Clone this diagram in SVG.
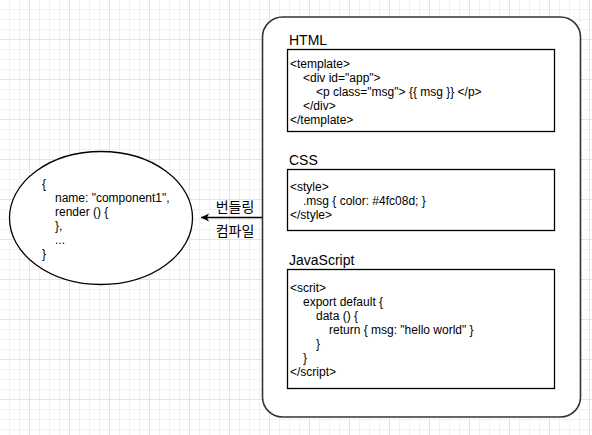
<svg xmlns="http://www.w3.org/2000/svg" width="592" height="435" viewBox="0 0 592 435">
<defs>
<pattern id="minor" width="10" height="10" patternUnits="userSpaceOnUse" x="9" y="9">
<path d="M0 0.5H10M0.5 0V10" fill="none" stroke="#f1f1f1" stroke-width="1"/>
</pattern>
<pattern id="major" width="40" height="40" patternUnits="userSpaceOnUse" x="29" y="39">
<path d="M0 0.5H40M0.5 0V40" fill="none" stroke="#e3e3e3" stroke-width="1"/>
</pattern>
<marker id="arrow" markerWidth="10" markerHeight="10" refX="8" refY="4" orient="auto" markerUnits="userSpaceOnUse">
<path d="M0 0L8 4L0 8L2 4Z" fill="#000"/>
</marker>
</defs>
<style>
.code{font-family:"Liberation Sans",Arial,sans-serif;font-size:12px;fill:#000;white-space:pre}
.title{font-family:"Liberation Sans",Arial,sans-serif;font-size:14px;fill:#000}
.kor{font-family:"Liberation Sans","Noto Sans CJK KR",sans-serif;font-size:14px;fill:#000;text-anchor:middle}
.box{fill:#fff;stroke:#000;stroke-width:1.3}
</style>
<rect width="592" height="435" fill="#fff"/>
<rect width="592" height="435" fill="url(#minor)"/>
<rect width="592" height="435" fill="url(#major)"/>

<g id="container">
<rect x="262.5" y="17" width="318" height="400" rx="20" ry="20" fill="#fff" stroke="#333" stroke-width="1.6"/>
</g>

<g id="html">
<text class="title" x="289" y="45">HTML</text>
<rect class="box" x="287.5" y="49.5" width="267" height="82"/>
<text class="code" x="290" y="67.5">&lt;template&gt;</text>
<text class="code" x="303" y="81.5">&lt;div id="app"&gt;</text>
<text class="code" x="316" y="95.5">&lt;p class="msg"&gt; {{ msg }} &lt;/p&gt;</text>
<text class="code" x="303" y="109.5">&lt;/div&gt;</text>
<text class="code" x="290" y="123.5">&lt;/template&gt;</text>
</g>

<g id="css">
<text class="title" x="289" y="165">CSS</text>
<rect class="box" x="287.5" y="169.5" width="267" height="61"/>
<text class="code" x="290" y="190.5">&lt;style&gt;</text>
<text class="code" x="303" y="204.5">.msg { color: #4fc08d; }</text>
<text class="code" x="290" y="218.5">&lt;/style&gt;</text>
</g>

<g id="javascript">
<text class="title" x="289" y="265">JavaScript</text>
<rect class="box" x="287.5" y="269.5" width="267" height="119"/>
<text class="code" x="290" y="291.5">&lt;scrit&gt;</text>
<text class="code" x="303" y="305.5">export default {</text>
<text class="code" x="316" y="319.5">data () {</text>
<text class="code" x="329" y="333.5">return { msg: "hello world" }</text>
<text class="code" x="316" y="347.5">}</text>
<text class="code" x="303" y="361.5">}</text>
<text class="code" x="290" y="375.5">&lt;/script&gt;</text>
</g>

<g id="component">
<ellipse cx="101" cy="218" rx="91.5" ry="66.5" fill="#fff" stroke="#000" stroke-width="1.3"/>
<text class="code" x="42" y="188">{</text>
<text class="code" x="55" y="202">name: "component1",</text>
<text class="code" x="55" y="216">render () {</text>
<text class="code" x="55" y="230">},</text>
<text class="code" x="55" y="244">...</text>
<text class="code" x="42" y="258">}</text>
</g>

<g id="connectors">
<line x1="262" y1="217.5" x2="201" y2="217.5" stroke="#000" stroke-width="1.3" marker-end="url(#arrow)"/>
<text class="kor" x="235" y="212">번들링</text>
<text class="kor" x="235" y="236">컴파일</text>
</g>
</svg>
